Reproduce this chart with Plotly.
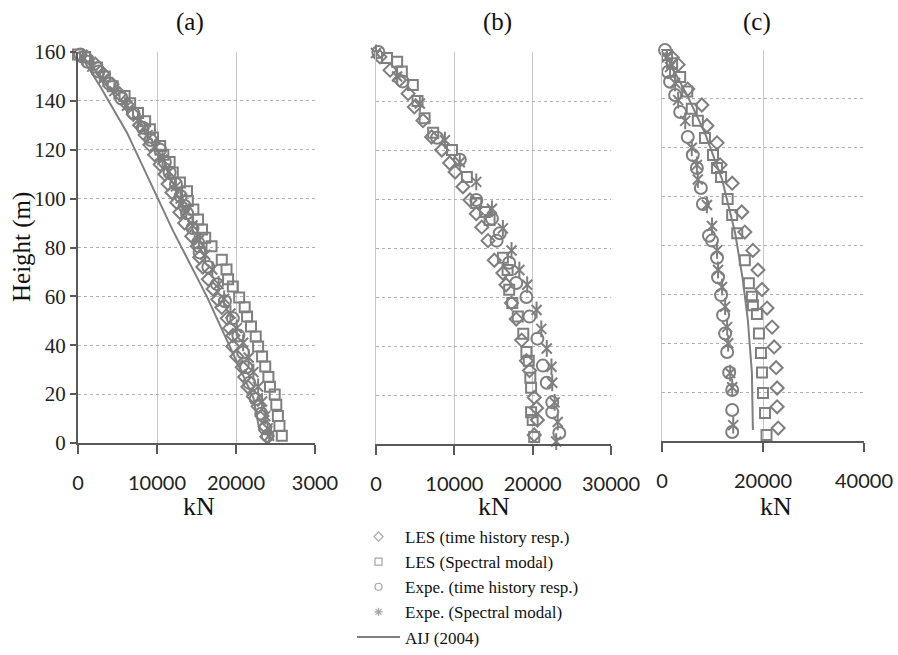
import plotly.graph_objects as go

# ---------------- data ----------------
# Panel (a)
a_les_th_h = [158, 155, 151, 146.8, 142.7, 138.6, 134.5, 130, 126, 122, 118, 114, 110, 106, 102.5, 98.4, 94.4, 90, 84.6, 80.5, 76, 72, 67, 63, 58.7, 55.5, 51, 47, 44, 39.5, 35.4, 31, 27, 23, 19, 15, 11, 6.7, 2.6]
a_les_th_x = [1100, 2200, 3200, 4300, 5300, 6200, 7000, 7800, 8500, 9100, 9700, 10400, 11000, 11400, 11900, 12500, 12900, 13500, 14400, 15100, 15400, 15800, 16500, 17100, 17700, 18200, 18900, 19200, 19600, 19600, 20100, 20800, 21100, 21500, 22200, 22800, 23300, 23700, 23900]
a_les_sm_h = [159, 158, 153.7, 150, 146, 142, 139, 135, 131.7, 128.4, 125, 121.5, 118, 115, 110.7, 106.6, 103, 99, 95.6, 91.5, 87.4, 84, 80.5, 75, 71, 67, 64, 59.5, 55.5, 51.8, 47.7, 43.6, 39.5, 35.4, 31.3, 27, 23, 19.8, 15.7, 11, 7, 3]
a_les_sm_x = [0, 900, 2400, 3400, 4400, 5900, 6600, 7600, 8500, 9100, 9500, 10400, 10800, 11600, 12000, 12900, 13800, 13900, 14600, 15200, 15700, 16100, 16900, 18200, 18800, 19000, 19600, 20400, 21100, 21400, 21900, 22500, 22800, 23300, 23700, 24100, 24300, 24900, 25100, 25300, 25500, 25800]
a_exp_th_h = [159, 156, 152, 147, 141, 135, 129, 124, 120, 115, 110.7, 106, 101, 97, 94, 88, 82, 78, 72, 65, 58, 51, 44, 37, 31, 24.6, 18, 12, 6, 3]
a_exp_th_x = [300, 1200, 2600, 4000, 5500, 7000, 8200, 9200, 10400, 11000, 11600, 12400, 13000, 13500, 13800, 14500, 15200, 15400, 16500, 17600, 18600, 19600, 20300, 20900, 21300, 21700, 22500, 23200, 23700, 24000]
a_exp_sm_h = [158, 154, 149, 144, 138, 132, 126, 121, 116, 111, 105, 100, 95, 89, 83, 77, 71, 65, 59, 53, 47, 41, 35, 29, 23, 17, 11, 6, 3]
a_exp_sm_x = [600, 1800, 3200, 4600, 6200, 7600, 8800, 9800, 10700, 11500, 12400, 13000, 13700, 14500, 15300, 16100, 17000, 17800, 18500, 19300, 20100, 20900, 21600, 22200, 22800, 23300, 23700, 24000, 24200]
a_aij_h = [159, 146, 127, 101, 87, 60, 37, 18.5, 4.7]
a_aij_x = [250, 2800, 6200, 10000, 12000, 16300, 19600, 22200, 23000]

# Panel (b)
b_les_th_h = [158, 152.6, 148.6, 143, 137.6, 132, 125.3, 120, 114.7, 111, 105, 99.6, 94, 88.5, 83, 75, 69.8, 65, 57.5, 51, 42.4, 34, 30, 19, 14.7, 9.8, 3.7]
b_les_th_x = [500, 1800, 3000, 4100, 4900, 6000, 7100, 8400, 9400, 10100, 11100, 12000, 12800, 13500, 14300, 15100, 16200, 16600, 17300, 17900, 18600, 19200, 19600, 20200, 20500, 20600, 20200]
b_les_sm_h = [157.6, 156, 152, 146.5, 140, 133, 127, 120, 109, 98.4, 94.7, 91.4, 76, 71, 63, 57.5, 52, 45, 37.5, 34, 27, 23, 13, 9.8, 2.9]
b_les_sm_x = [1400, 2700, 3300, 4700, 5300, 6200, 7300, 9700, 11600, 12800, 13900, 14500, 16200, 16800, 17000, 17400, 18100, 18800, 19200, 19500, 19700, 19800, 19800, 20000, 20200]
b_exp_th_h = [160, 148, 125, 116, 99.6, 92, 86, 83, 74, 65.7, 60, 52, 43, 32, 25, 17, 13, 4.5]
b_exp_th_x = [300, 3400, 7800, 10700, 12800, 14800, 15800, 15400, 17000, 17900, 19200, 19600, 20600, 21300, 21800, 22500, 22500, 23400]
b_exp_sm_h = [159.6, 150, 139, 124, 115, 107, 96, 88, 79, 71, 65, 54.7, 47, 39, 31.5, 25, 17, 9, 1]
b_exp_sm_x = [0, 2700, 5600, 8800, 10700, 12800, 14800, 16200, 17300, 18300, 19300, 20500, 21100, 21800, 22400, 22500, 22800, 23200, 23000]

# Panel (c)
c_les_th_h = [157, 154, 144, 137.5, 129, 122, 113, 105.5, 93.7, 85.5, 78, 70, 62, 54.4, 46.6, 38.5, 30, 21.7, 14, 5.3]
c_les_th_x = [2000, 3200, 5100, 7900, 8900, 10900, 11500, 13900, 15800, 16400, 18000, 19000, 19800, 20800, 21800, 22200, 22600, 22800, 22800, 23000]
c_les_sm_h = [158, 154.6, 149, 143, 136, 131, 124, 117, 111.7, 108, 99, 92.5, 85, 74, 64.6, 59, 55.6, 52, 44, 36, 28, 19.6, 11.5, 2.5]
c_les_sm_x = [1000, 2000, 3600, 5000, 5900, 7100, 8500, 10100, 10900, 11700, 13000, 13900, 14900, 16400, 17200, 17800, 18000, 18800, 19200, 19600, 19800, 20000, 20400, 20700]
c_exp_th_h = [160, 151, 147, 141.6, 134.6, 124.4, 117, 111.7, 103.5, 97, 84, 82, 75, 67, 59.7, 51.5, 44, 36.4, 28, 20.9, 12.7, 3.7]
c_exp_th_x = [600, 1200, 1600, 2600, 3600, 5100, 6100, 6900, 7700, 8100, 9300, 9900, 10900, 11100, 11700, 12100, 12500, 12900, 13300, 13900, 13900, 13900]
c_exp_sm_h = [157, 153, 146.5, 139.5, 131, 120, 113, 107, 96.6, 88, 78, 70, 63, 55, 46.6, 40, 27.8, 22, 6.5]
c_exp_sm_x = [1000, 1600, 2600, 3200, 4600, 5900, 6900, 7100, 8900, 9900, 10900, 11100, 11900, 12500, 12900, 13100, 13500, 13900, 14100]
c_aij_h = [159, 153, 141, 126, 107, 85, 66, 49.5, 28, 4.5]
c_aij_x = [600, 2000, 5100, 8500, 11900, 14500, 16000, 17000, 17800, 18000]

y_ticks = [0, 20, 40, 60, 80, 100, 120, 140, 160]
a_xticks = [0, 10000, 20000, 30000]
a_xlabels = ["0", "10000", "20000", "3000"]
b_xticks = [0, 10000, 20000, 30000]
b_xlabels = ["0", "10000", "20000", "30000"]
c_xticks = [0, 20000, 40000]
c_xlabels = ["0", "20000", "40000"]

legend_names = ["LES (time history resp.)", "LES (Spectral modal)",
                "Expe. (time history resp.)", "Expe. (Spectral modal)", "AIJ (2004)"]

# ---------------- figure ----------------
GRAY = "#7f7f7f"
LGRAY = "#a6a6a6"
W, H = 898, 655
fig = go.Figure()

panels = [
    ("x", "y", (a_les_th_x, a_les_th_h), (a_les_sm_x, a_les_sm_h), (a_exp_th_x, a_exp_th_h), (a_exp_sm_x, a_exp_sm_h), (a_aij_x, a_aij_h)),
    ("x2", "y2", (b_les_th_x, b_les_th_h), (b_les_sm_x, b_les_sm_h), (b_exp_th_x, b_exp_th_h), (b_exp_sm_x, b_exp_sm_h), None),
    ("x3", "y3", (c_les_th_x, c_les_th_h), (c_les_sm_x, c_les_sm_h), (c_exp_th_x, c_exp_th_h), (c_exp_sm_x, c_exp_sm_h), (c_aij_x, c_aij_h)),
]

def mk(sym, size):
    return dict(symbol=sym, size=size, color=GRAY, line=dict(color=GRAY, width=2))

for i, (xa, ya, les_th, les_sm, exp_th, exp_sm, aij) in enumerate(panels):
    if aij is not None:
        fig.add_trace(go.Scatter(x=aij[0], y=aij[1], mode="lines", xaxis=xa, yaxis=ya,
                                 line=dict(color=GRAY, width=2), showlegend=False, cliponaxis=False))
    fig.add_trace(go.Scatter(x=les_th[0], y=les_th[1], mode="markers", xaxis=xa, yaxis=ya,
                             marker=mk("diamond-open", 10), showlegend=False, cliponaxis=False))
    fig.add_trace(go.Scatter(x=les_sm[0], y=les_sm[1], mode="markers", xaxis=xa, yaxis=ya,
                             marker=mk("square-open", 10), showlegend=False, cliponaxis=False))
    fig.add_trace(go.Scatter(x=exp_th[0], y=exp_th[1], mode="markers", xaxis=xa, yaxis=ya,
                             marker=mk("circle-open", 12), showlegend=False, cliponaxis=False))
    # Excel-style star: an X with a vertical stroke
    fig.add_trace(go.Scatter(x=exp_sm[0], y=exp_sm[1], mode="markers", xaxis=xa, yaxis=ya,
                             marker=mk("x-thin-open", 10), showlegend=False, cliponaxis=False))
    fig.add_trace(go.Scatter(x=exp_sm[0], y=exp_sm[1], mode="markers", xaxis=xa, yaxis=ya,
                             marker=mk("line-ns-open", 12), showlegend=False, cliponaxis=False))

# legend entries
leg_syms = ["diamond-open", "square-open", "circle-open", "asterisk-open"]
for name, sym in zip(legend_names[:4], leg_syms):
    fig.add_trace(go.Scatter(x=[None], y=[None], mode="markers", name=name,
                             marker=dict(symbol=sym, size=7, color=LGRAY, line=dict(color=LGRAY, width=1.2))))
fig.add_trace(go.Scatter(x=[None], y=[None], mode="lines", name=legend_names[4],
                         line=dict(color=GRAY, width=2)))

def px_x(p):
    return p / W

def px_y(p):
    return 1 - p / H

serif = "Liberation Serif"
sans = "Lato"

common_x = dict(showgrid=True, gridcolor="#c8c8c8", gridwidth=1, zeroline=False,
                showline=True, linecolor="#595959", linewidth=2, ticks="outside", ticklen=9,
                tickcolor="#595959", tickwidth=2, tickmode="array", ticklabelstandoff=12,
                tickfont=dict(family=sans, size=20, color="#222"), fixedrange=True)
common_y = dict(range=[0, 160], tickvals=y_ticks, showgrid=True, gridcolor="#b0b0b0", griddash="dot",
                gridwidth=1, zeroline=False, fixedrange=True)

fig.update_layout(
    width=W, height=H, margin=dict(l=0, r=0, t=0, b=0, autoexpand=False),
    paper_bgcolor="white", plot_bgcolor="white",
    xaxis=dict(domain=[px_x(78), px_x(315)], range=[0, 30000], tickvals=a_xticks, ticktext=a_xlabels,
               anchor="y", **common_x),
    yaxis=dict(domain=[px_y(443), px_y(52)], anchor="x", showline=True, linecolor="#595959", linewidth=2,
               ticks="outside", ticklen=6, tickcolor="#595959", tickwidth=1.5, showticklabels=True,
               tickfont=dict(family=serif, size=21, color="#222"), **common_y),
    xaxis2=dict(domain=[px_x(376), px_x(611)], range=[0, 30000], tickvals=b_xticks, ticktext=b_xlabels,
                anchor="y2", **common_x),
    yaxis2=dict(domain=[px_y(444), px_y(52)], anchor="x2", showline=True, linecolor="#c8c8c8", linewidth=1,
                showticklabels=False, ticks="", **common_y),
    xaxis3=dict(domain=[px_x(662), px_x(864)], range=[0, 40000], tickvals=c_xticks, ticktext=c_xlabels,
                anchor="y3", **common_x),
    yaxis3=dict(domain=[px_y(441), px_y(50)], anchor="x3", showline=True, linecolor="#c8c8c8", linewidth=1,
                showticklabels=False, ticks="", **common_y),
    legend=dict(x=px_x(352), y=0, xanchor="left", yanchor="bottom",
                font=dict(family=serif, size=17, color="#111"), tracegroupgap=0,
                bgcolor="rgba(0,0,0,0)", itemwidth=43),
    showlegend=True,
)

ann = []
for txt, cx in [("(a)", 190), ("(b)", 497), ("(c)", 757)]:
    ann.append(dict(text=txt, x=px_x(cx), y=px_y(22), xref="paper", yref="paper", showarrow=False,
                    font=dict(family=serif, size=25, color="#111"), xanchor="center", yanchor="middle"))
for cx in [199, 494, 776]:
    ann.append(dict(text="kN", x=px_x(cx), y=px_y(506), xref="paper", yref="paper", showarrow=False,
                    font=dict(family=serif, size=26, color="#111"), xanchor="center", yanchor="middle"))
ann.append(dict(text="Height (m)", x=px_x(22), y=px_y(247), xref="paper", yref="paper", showarrow=False,
                textangle=-90, font=dict(family=serif, size=25, color="#111"),
                xanchor="center", yanchor="middle"))
fig.update_layout(annotations=ann)

fig.write_html("out.html")
